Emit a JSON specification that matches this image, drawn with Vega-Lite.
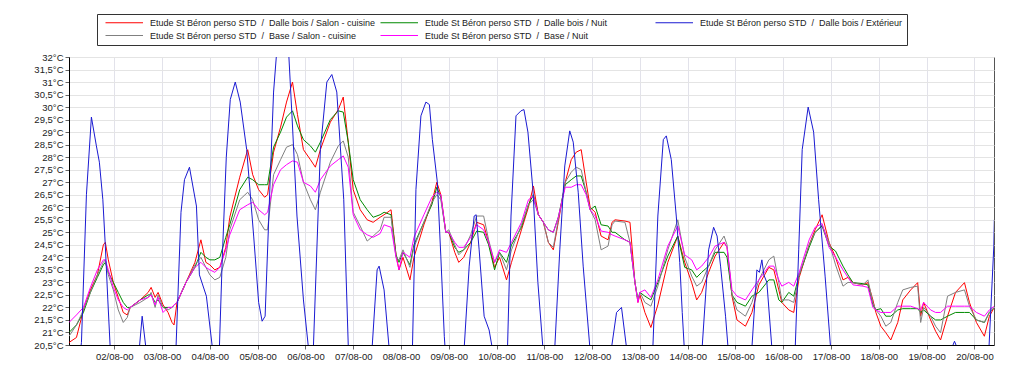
{
"$schema":"https://vega.github.io/schema/vega-lite/v6.json",
"width":925,"height":288,
"autosize":{"type":"none"},
"padding":{"left":69,"top":57,"right":30,"bottom":35},
"background":"white",
"config":{"view":{"stroke":"#555","strokeWidth":1},"font":"Liberation Sans"},
"data":{"values":[
{"t":"2000-08-01 01:15","dalle_salon":20.6,"dalle_nuit":21.0,"base_salon":20.85,"base_nuit":21.4},
{"t":"2000-08-01 05:00","dalle_salon":20.8,"dalle_nuit":21.3,"base_salon":21.3,"base_nuit":21.7},
{"t":"2000-08-01 08:30","dalle_salon":21.9,"dalle_nuit":21.8,"base_salon":21.9,"base_nuit":22.0},
{"t":"2000-08-01 12:00","dalle_salon":22.7,"dalle_nuit":22.6,"base_salon":22.6,"base_nuit":22.8},
{"t":"2000-08-01 15:30","dalle_salon":23.3,"dalle_nuit":23.2,"base_salon":23.3,"base_nuit":23.5},
{"t":"2000-08-01 18:30","dalle_salon":24.5,"dalle_nuit":23.7,"base_salon":23.8,"base_nuit":23.9},
{"t":"2000-08-01 19:30","dalle_salon":24.6,"dalle_nuit":23.8,"base_salon":23.9,"base_nuit":23.9},
{"t":"2000-08-01 21:00","dalle_salon":23.9,"dalle_nuit":23.4,"base_salon":23.3,"base_nuit":23.5},
{"t":"2000-08-01 23:30","dalle_salon":23.0,"dalle_nuit":23.0,"base_salon":22.7,"base_nuit":22.8},
{"t":"2000-08-02 02:00","dalle_salon":22.4,"dalle_nuit":22.6,"base_salon":21.9,"base_nuit":22.3},
{"t":"2000-08-02 04:30","dalle_salon":21.8,"dalle_nuit":22.2,"base_salon":21.4,"base_nuit":22.0},
{"t":"2000-08-02 06:30","dalle_salon":21.7,"dalle_nuit":22.0,"base_salon":21.6,"base_nuit":21.9},
{"t":"2000-08-02 08:00","dalle_salon":22.0,"dalle_nuit":22.0,"base_salon":22.0,"base_nuit":22.0},
{"t":"2000-08-02 13:00","dalle_salon":22.3,"dalle_nuit":22.3,"base_salon":22.2,"base_nuit":22.3},
{"t":"2000-08-02 17:00","dalle_salon":22.6,"dalle_nuit":22.5,"base_salon":22.4,"base_nuit":22.4},
{"t":"2000-08-02 18:30","dalle_salon":22.8,"dalle_nuit":22.5,"base_salon":22.6,"base_nuit":22.5},
{"t":"2000-08-02 20:30","dalle_salon":22.4,"dalle_nuit":22.2,"base_salon":22.0,"base_nuit":22.1},
{"t":"2000-08-02 22:00","dalle_salon":22.6,"dalle_nuit":22.3,"base_salon":22.5,"base_nuit":22.4},
{"t":"2000-08-03 00:30","dalle_salon":22.1,"dalle_nuit":22.0,"base_salon":22.0,"base_nuit":21.8},
{"t":"2000-08-03 03:00","dalle_salon":21.8,"dalle_nuit":22.0,"base_salon":21.9,"base_nuit":22.0},
{"t":"2000-08-03 05:00","dalle_salon":21.4,"dalle_nuit":22.0,"base_salon":22.0,"base_nuit":22.0},
{"t":"2000-08-03 06:00","dalle_salon":21.3,"dalle_nuit":22.1,"base_salon":22.1,"base_nuit":22.1},
{"t":"2000-08-03 07:30","dalle_salon":22.2,"dalle_nuit":22.2,"base_salon":22.2,"base_nuit":22.2},
{"t":"2000-08-03 12:00","dalle_salon":23.0,"dalle_nuit":23.0,"base_salon":23.0,"base_nuit":23.0},
{"t":"2000-08-03 16:30","dalle_salon":23.8,"dalle_nuit":23.6,"base_salon":23.7,"base_nuit":23.6},
{"t":"2000-08-03 19:30","dalle_salon":24.7,"dalle_nuit":24.2,"base_salon":24.0,"base_nuit":23.8},
{"t":"2000-08-03 22:00","dalle_salon":23.8,"dalle_nuit":24.0,"base_salon":23.6,"base_nuit":23.6},
{"t":"2000-08-04 00:00","dalle_salon":23.7,"dalle_nuit":23.9,"base_salon":23.3,"base_nuit":23.5},
{"t":"2000-08-04 02:30","dalle_salon":23.5,"dalle_nuit":23.9,"base_salon":23.1,"base_nuit":23.4},
{"t":"2000-08-04 05:00","dalle_salon":23.6,"dalle_nuit":24.0,"base_salon":23.2,"base_nuit":23.6},
{"t":"2000-08-04 08:00","dalle_salon":24.4,"dalle_nuit":24.8,"base_salon":24.0,"base_nuit":24.3},
{"t":"2000-08-04 10:00","dalle_salon":25.6,"dalle_nuit":25.3,"base_salon":25.1,"base_nuit":24.9},
{"t":"2000-08-04 15:00","dalle_salon":27.2,"dalle_nuit":26.7,"base_salon":26.3,"base_nuit":25.9},
{"t":"2000-08-04 19:00","dalle_salon":28.3,"dalle_nuit":27.2,"base_salon":26.6,"base_nuit":26.1},
{"t":"2000-08-04 21:30","dalle_salon":27.3,"dalle_nuit":27.1,"base_salon":26.3,"base_nuit":26.2},
{"t":"2000-08-05 00:30","dalle_salon":26.7,"dalle_nuit":26.9,"base_salon":25.5,"base_nuit":25.9},
{"t":"2000-08-05 03:30","dalle_salon":26.4,"dalle_nuit":26.9,"base_salon":25.1,"base_nuit":25.7},
{"t":"2000-08-05 05:00","dalle_salon":26.5,"dalle_nuit":26.9,"base_salon":25.1,"base_nuit":25.8},
{"t":"2000-08-05 08:00","dalle_salon":28.2,"dalle_nuit":28.4,"base_salon":27.3,"base_nuit":26.9},
{"t":"2000-08-05 11:30","dalle_salon":29.2,"dalle_nuit":29.0,"base_salon":27.9,"base_nuit":27.5},
{"t":"2000-08-05 14:30","dalle_salon":30.2,"dalle_nuit":29.6,"base_salon":28.4,"base_nuit":27.7},
{"t":"2000-08-05 17:30","dalle_salon":31.0,"dalle_nuit":29.85,"base_salon":28.5,"base_nuit":27.85},
{"t":"2000-08-05 20:00","dalle_salon":29.7,"dalle_nuit":29.25,"base_salon":28.1,"base_nuit":27.8},
{"t":"2000-08-05 23:00","dalle_salon":28.3,"dalle_nuit":28.7,"base_salon":27.0,"base_nuit":27.0},
{"t":"2000-08-06 02:30","dalle_salon":27.9,"dalle_nuit":28.45,"base_salon":26.3,"base_nuit":26.85},
{"t":"2000-08-06 05:00","dalle_salon":27.6,"dalle_nuit":28.2,"base_salon":25.9,"base_nuit":26.6},
{"t":"2000-08-06 07:30","dalle_salon":28.3,"dalle_nuit":28.6,"base_salon":26.6,"base_nuit":27.1},
{"t":"2000-08-06 12:30","dalle_salon":29.4,"dalle_nuit":29.5,"base_salon":27.8,"base_nuit":27.65},
{"t":"2000-08-06 16:30","dalle_salon":29.9,"dalle_nuit":29.85,"base_salon":28.45,"base_nuit":27.9},
{"t":"2000-08-06 19:00","dalle_salon":30.4,"dalle_nuit":29.8,"base_salon":28.65,"base_nuit":28.05},
{"t":"2000-08-06 21:30","dalle_salon":28.6,"dalle_nuit":28.6,"base_salon":28.0,"base_nuit":27.6},
{"t":"2000-08-07 00:00","dalle_salon":26.7,"dalle_nuit":27.1,"base_salon":25.8,"base_nuit":25.7},
{"t":"2000-08-07 03:30","dalle_salon":25.9,"dalle_nuit":26.3,"base_salon":25.25,"base_nuit":25.1},
{"t":"2000-08-07 07:00","dalle_salon":25.5,"dalle_nuit":25.9,"base_salon":24.65,"base_nuit":24.9},
{"t":"2000-08-07 10:00","dalle_salon":25.4,"dalle_nuit":25.6,"base_salon":24.85,"base_nuit":24.8},
{"t":"2000-08-07 13:30","dalle_salon":25.6,"dalle_nuit":25.7,"base_salon":25.1,"base_nuit":24.95},
{"t":"2000-08-07 15:30","dalle_salon":25.7,"dalle_nuit":25.8,"base_salon":25.6,"base_nuit":25.3},
{"t":"2000-08-07 19:00","dalle_salon":25.9,"dalle_nuit":25.7,"base_salon":25.6,"base_nuit":25.2},
{"t":"2000-08-07 21:30","dalle_salon":24.1,"dalle_nuit":24.1,"base_salon":24.0,"base_nuit":24.0},
{"t":"2000-08-07 23:00","dalle_salon":23.5,"dalle_nuit":23.8,"base_salon":23.9,"base_nuit":23.5},
{"t":"2000-08-08 01:00","dalle_salon":24.0,"dalle_nuit":24.2,"base_salon":24.3,"base_nuit":24.2},
{"t":"2000-08-08 04:30","dalle_salon":23.1,"dalle_nuit":23.7,"base_salon":23.6,"base_nuit":24.0},
{"t":"2000-08-08 06:30","dalle_salon":24.0,"dalle_nuit":24.5,"base_salon":24.4,"base_nuit":24.8},
{"t":"2000-08-08 11:30","dalle_salon":25.3,"dalle_nuit":25.4,"base_salon":25.4,"base_nuit":25.7},
{"t":"2000-08-08 15:30","dalle_salon":26.2,"dalle_nuit":26.1,"base_salon":26.2,"base_nuit":26.4},
{"t":"2000-08-08 18:00","dalle_salon":27.0,"dalle_nuit":26.8,"base_salon":26.5,"base_nuit":26.6},
{"t":"2000-08-08 20:00","dalle_salon":26.5,"dalle_nuit":26.4,"base_salon":26.3,"base_nuit":26.5},
{"t":"2000-08-08 22:30","dalle_salon":25.0,"dalle_nuit":25.0,"base_salon":25.0,"base_nuit":25.0},
{"t":"2000-08-09 00:00","dalle_salon":25.0,"dalle_nuit":25.0,"base_salon":25.1,"base_nuit":25.0},
{"t":"2000-08-09 03:00","dalle_salon":24.2,"dalle_nuit":24.4,"base_salon":24.5,"base_nuit":24.6},
{"t":"2000-08-09 05:00","dalle_salon":23.8,"dalle_nuit":24.2,"base_salon":24.1,"base_nuit":24.4},
{"t":"2000-08-09 07:30","dalle_salon":24.0,"dalle_nuit":24.3,"base_salon":24.3,"base_nuit":24.4},
{"t":"2000-08-09 11:00","dalle_salon":24.6,"dalle_nuit":24.6,"base_salon":24.9,"base_nuit":24.8},
{"t":"2000-08-09 14:00","dalle_salon":25.4,"dalle_nuit":25.05,"base_salon":25.65,"base_nuit":25.3},
{"t":"2000-08-09 17:30","dalle_salon":25.3,"dalle_nuit":25.0,"base_salon":25.65,"base_nuit":25.1},
{"t":"2000-08-09 20:00","dalle_salon":24.6,"dalle_nuit":24.5,"base_salon":24.7,"base_nuit":24.6},
{"t":"2000-08-09 23:00","dalle_salon":23.6,"dalle_nuit":23.5,"base_salon":23.8,"base_nuit":23.8},
{"t":"2000-08-10 01:30","dalle_salon":24.0,"dalle_nuit":24.2,"base_salon":24.2,"base_nuit":24.3},
{"t":"2000-08-10 05:00","dalle_salon":23.1,"dalle_nuit":23.8,"base_salon":23.5,"base_nuit":24.2},
{"t":"2000-08-10 07:30","dalle_salon":23.8,"dalle_nuit":24.5,"base_salon":24.3,"base_nuit":24.6},
{"t":"2000-08-10 12:30","dalle_salon":25.1,"dalle_nuit":25.2,"base_salon":25.3,"base_nuit":25.4},
{"t":"2000-08-10 16:00","dalle_salon":26.0,"dalle_nuit":26.1,"base_salon":26.1,"base_nuit":26.3},
{"t":"2000-08-10 18:30","dalle_salon":26.85,"dalle_nuit":26.5,"base_salon":26.3,"base_nuit":26.45},
{"t":"2000-08-10 21:00","dalle_salon":25.7,"dalle_nuit":25.7,"base_salon":25.7,"base_nuit":25.7},
{"t":"2000-08-10 23:30","dalle_salon":25.4,"dalle_nuit":25.4,"base_salon":25.4,"base_nuit":25.4},
{"t":"2000-08-11 02:00","dalle_salon":24.6,"dalle_nuit":25.1,"base_salon":24.6,"base_nuit":25.1},
{"t":"2000-08-11 04:30","dalle_salon":24.3,"dalle_nuit":25.0,"base_salon":24.4,"base_nuit":25.0},
{"t":"2000-08-11 07:00","dalle_salon":25.4,"dalle_nuit":25.6,"base_salon":25.5,"base_nuit":25.6},
{"t":"2000-08-11 10:30","dalle_salon":27.0,"dalle_nuit":26.9,"base_salon":27.0,"base_nuit":26.8},
{"t":"2000-08-11 13:30","dalle_salon":27.9,"dalle_nuit":27.1,"base_salon":27.4,"base_nuit":26.8},
{"t":"2000-08-11 16:00","dalle_salon":28.2,"dalle_nuit":27.25,"base_salon":27.6,"base_nuit":26.9},
{"t":"2000-08-11 18:30","dalle_salon":28.3,"dalle_nuit":27.25,"base_salon":27.5,"base_nuit":26.9},
{"t":"2000-08-11 21:00","dalle_salon":27.0,"dalle_nuit":26.6,"base_salon":26.6,"base_nuit":26.5},
{"t":"2000-08-11 23:00","dalle_salon":26.0,"dalle_nuit":25.9,"base_salon":25.9,"base_nuit":25.9},
{"t":"2000-08-12 01:30","dalle_salon":25.8,"dalle_nuit":26.05,"base_salon":25.5,"base_nuit":25.65},
{"t":"2000-08-12 04:30","dalle_salon":24.85,"dalle_nuit":25.3,"base_salon":24.3,"base_nuit":25.05},
{"t":"2000-08-12 08:00","dalle_salon":24.7,"dalle_nuit":25.25,"base_salon":24.45,"base_nuit":25.0},
{"t":"2000-08-12 10:00","dalle_salon":25.4,"dalle_nuit":25.0,"base_salon":25.3,"base_nuit":24.9},
{"t":"2000-08-12 11:30","dalle_salon":25.5,"dalle_nuit":25.0,"base_salon":25.45,"base_nuit":24.85},
{"t":"2000-08-12 16:30","dalle_salon":25.45,"dalle_nuit":24.7,"base_salon":25.4,"base_nuit":24.7},
{"t":"2000-08-12 19:00","dalle_salon":25.4,"dalle_nuit":24.6,"base_salon":24.6,"base_nuit":24.6},
{"t":"2000-08-12 21:30","dalle_salon":23.0,"dalle_nuit":23.0,"base_salon":23.0,"base_nuit":23.0},
{"t":"2000-08-12 23:00","dalle_salon":22.2,"dalle_nuit":22.3,"base_salon":22.3,"base_nuit":22.2},
{"t":"2000-08-13 00:00","dalle_salon":22.5,"dalle_nuit":22.6,"base_salon":22.6,"base_nuit":22.6},
{"t":"2000-08-13 02:30","dalle_salon":21.8,"dalle_nuit":22.45,"base_salon":22.2,"base_nuit":22.7},
{"t":"2000-08-13 05:30","dalle_salon":21.2,"dalle_nuit":22.3,"base_salon":22.05,"base_nuit":22.4},
{"t":"2000-08-13 09:00","dalle_salon":22.1,"dalle_nuit":22.99,"base_salon":22.85,"base_nuit":23.1},
{"t":"2000-08-13 14:00","dalle_salon":23.8,"dalle_nuit":24.05,"base_salon":24.3,"base_nuit":24.45},
{"t":"2000-08-13 19:00","dalle_salon":24.85,"dalle_nuit":24.85,"base_salon":25.5,"base_nuit":25.25},
{"t":"2000-08-13 22:30","dalle_salon":23.8,"dalle_nuit":23.6,"base_salon":24.0,"base_nuit":24.1},
{"t":"2000-08-14 02:00","dalle_salon":22.99,"dalle_nuit":23.5,"base_salon":23.25,"base_nuit":23.9},
{"t":"2000-08-14 04:30","dalle_salon":22.3,"dalle_nuit":23.2,"base_salon":22.85,"base_nuit":23.5},
{"t":"2000-08-14 07:00","dalle_salon":22.6,"dalle_nuit":23.4,"base_salon":23.0,"base_nuit":23.65},
{"t":"2000-08-14 10:30","dalle_salon":23.4,"dalle_nuit":23.65,"base_salon":23.65,"base_nuit":24.0},
{"t":"2000-08-14 13:45","dalle_salon":24.05,"dalle_nuit":24.2,"base_salon":24.3,"base_nuit":24.45},
{"t":"2000-08-14 18:15","dalle_salon":24.6,"dalle_nuit":24.2,"base_salon":24.85,"base_nuit":24.6},
{"t":"2000-08-14 19:45","dalle_salon":24.4,"dalle_nuit":24.0,"base_salon":24.5,"base_nuit":24.4},
{"t":"2000-08-14 22:15","dalle_salon":22.45,"dalle_nuit":22.5,"base_salon":22.5,"base_nuit":22.7},
{"t":"2000-08-15 00:45","dalle_salon":21.5,"dalle_nuit":22.2,"base_salon":21.9,"base_nuit":22.45},
{"t":"2000-08-15 05:00","dalle_salon":21.25,"dalle_nuit":22.05,"base_salon":21.65,"base_nuit":22.3},
{"t":"2000-08-15 08:15","dalle_salon":21.8,"dalle_nuit":22.45,"base_salon":22.2,"base_nuit":22.7},
{"t":"2000-08-15 11:45","dalle_salon":22.9,"dalle_nuit":22.6,"base_salon":23.1,"base_nuit":23.1},
{"t":"2000-08-15 16:45","dalle_salon":23.6,"dalle_nuit":23.1,"base_salon":23.9,"base_nuit":23.65},
{"t":"2000-08-15 19:15","dalle_salon":23.5,"dalle_nuit":23.1,"base_salon":24.05,"base_nuit":23.65},
{"t":"2000-08-15 21:45","dalle_salon":22.7,"dalle_nuit":22.3,"base_salon":22.99,"base_nuit":23.1},
{"t":"2000-08-15 23:15","dalle_salon":22.2,"dalle_nuit":22.2,"base_salon":22.3,"base_nuit":22.85},
{"t":"2000-08-16 02:45","dalle_salon":21.9,"dalle_nuit":22.6,"base_salon":22.3,"base_nuit":23.0},
{"t":"2000-08-16 05:15","dalle_salon":21.8,"dalle_nuit":22.45,"base_salon":22.2,"base_nuit":22.85},
{"t":"2000-08-16 08:00","dalle_salon":23.2,"dalle_nuit":23.3,"base_salon":23.3,"base_nuit":23.4},
{"t":"2000-08-16 13:00","dalle_salon":24.5,"dalle_nuit":24.4,"base_salon":24.5,"base_nuit":24.7},
{"t":"2000-08-16 16:00","dalle_salon":25.1,"dalle_nuit":25.0,"base_salon":25.0,"base_nuit":25.2},
{"t":"2000-08-16 19:30","dalle_salon":25.7,"dalle_nuit":25.25,"base_salon":25.3,"base_nuit":25.35},
{"t":"2000-08-16 23:00","dalle_salon":24.6,"dalle_nuit":24.45,"base_salon":24.6,"base_nuit":24.4},
{"t":"2000-08-17 02:15","dalle_salon":24.0,"dalle_nuit":24.25,"base_salon":23.7,"base_nuit":24.0},
{"t":"2000-08-17 06:00","dalle_salon":23.1,"dalle_nuit":23.65,"base_salon":22.85,"base_nuit":23.5},
{"t":"2000-08-17 08:30","dalle_salon":23.2,"dalle_nuit":23.3,"base_salon":23.0,"base_nuit":23.2},
{"t":"2000-08-17 11:00","dalle_salon":22.99,"dalle_nuit":22.99,"base_salon":22.99,"base_nuit":22.9},
{"t":"2000-08-17 16:00","dalle_salon":22.9,"dalle_nuit":22.95,"base_salon":22.9,"base_nuit":22.85},
{"t":"2000-08-17 18:30","dalle_salon":22.99,"dalle_nuit":22.9,"base_salon":23.1,"base_nuit":22.8},
{"t":"2000-08-17 21:00","dalle_salon":22.3,"dalle_nuit":22.1,"base_salon":22.2,"base_nuit":22.0},
{"t":"2000-08-17 22:30","dalle_salon":21.8,"dalle_nuit":21.9,"base_salon":21.9,"base_nuit":21.9},
{"t":"2000-08-18 01:00","dalle_salon":21.25,"dalle_nuit":21.95,"base_salon":21.65,"base_nuit":21.8},
{"t":"2000-08-18 03:30","dalle_salon":20.99,"dalle_nuit":21.65,"base_salon":21.25,"base_nuit":21.8},
{"t":"2000-08-18 06:00","dalle_salon":20.7,"dalle_nuit":21.65,"base_salon":21.4,"base_nuit":21.8},
{"t":"2000-08-18 09:30","dalle_salon":21.4,"dalle_nuit":21.9,"base_salon":22.2,"base_nuit":22.05},
{"t":"2000-08-18 12:00","dalle_salon":22.3,"dalle_nuit":21.95,"base_salon":22.7,"base_nuit":22.05},
{"t":"2000-08-18 16:00","dalle_salon":22.7,"dalle_nuit":21.95,"base_salon":22.8,"base_nuit":22.05},
{"t":"2000-08-18 19:30","dalle_salon":22.99,"dalle_nuit":21.95,"base_salon":22.85,"base_nuit":21.95},
{"t":"2000-08-18 21:00","dalle_salon":21.65,"dalle_nuit":21.8,"base_salon":21.4,"base_nuit":21.9},
{"t":"2000-08-18 22:30","dalle_salon":22.2,"dalle_nuit":21.9,"base_salon":22.0,"base_nuit":22.2},
{"t":"2000-08-19 02:00","dalle_salon":21.5,"dalle_nuit":21.65,"base_salon":21.65,"base_nuit":21.9},
{"t":"2000-08-19 04:30","dalle_salon":21.05,"dalle_nuit":21.5,"base_salon":21.25,"base_nuit":21.8},
{"t":"2000-08-19 07:00","dalle_salon":20.7,"dalle_nuit":21.5,"base_salon":20.99,"base_nuit":21.8},
{"t":"2000-08-19 10:30","dalle_salon":21.65,"dalle_nuit":21.65,"base_salon":22.45,"base_nuit":22.05},
{"t":"2000-08-19 14:30","dalle_salon":22.6,"dalle_nuit":21.8,"base_salon":22.6,"base_nuit":22.05},
{"t":"2000-08-19 19:00","dalle_salon":22.99,"dalle_nuit":21.8,"base_salon":22.7,"base_nuit":22.05},
{"t":"2000-08-19 21:30","dalle_salon":22.2,"dalle_nuit":21.8,"base_salon":22.05,"base_nuit":22.05},
{"t":"2000-08-20 01:00","dalle_salon":21.4,"dalle_nuit":21.5,"base_salon":21.5,"base_nuit":21.8},
{"t":"2000-08-20 05:00","dalle_salon":20.85,"dalle_nuit":21.4,"base_salon":21.4,"base_nuit":21.65},
{"t":"2000-08-20 07:30","dalle_salon":21.65,"dalle_nuit":21.8,"base_salon":21.8,"base_nuit":21.9},
{"t":"2000-08-20 10:00","dalle_salon":22.0,"dalle_nuit":22.0,"base_salon":22.0,"base_nuit":22.05},
{"t":"2000-08-01 01:15","dalle_ext":16.5},
{"t":"2000-08-01 07:30","dalle_ext":20.6},
{"t":"2000-08-01 10:00","dalle_ext":26.5},
{"t":"2000-08-01 12:30","dalle_ext":29.6},
{"t":"2000-08-01 15:00","dalle_ext":28.45},
{"t":"2000-08-01 16:30","dalle_ext":27.8},
{"t":"2000-08-01 18:15","dalle_ext":26.3},
{"t":"2000-08-01 19:30","dalle_ext":24.45},
{"t":"2000-08-01 20:45","dalle_ext":22.3},
{"t":"2000-08-01 22:00","dalle_ext":20.3},
{"t":"2000-08-02 05:30","dalle_ext":16.0},
{"t":"2000-08-02 12:30","dalle_ext":20.3},
{"t":"2000-08-02 14:00","dalle_ext":21.65},
{"t":"2000-08-02 16:00","dalle_ext":20.3},
{"t":"2000-08-02 23:00","dalle_ext":16.0},
{"t":"2000-08-03 07:00","dalle_ext":20.4},
{"t":"2000-08-03 09:30","dalle_ext":25.8},
{"t":"2000-08-03 11:15","dalle_ext":27.1},
{"t":"2000-08-03 13:45","dalle_ext":27.6},
{"t":"2000-08-03 17:15","dalle_ext":26.05},
{"t":"2000-08-03 18:45","dalle_ext":23.3},
{"t":"2000-08-03 22:15","dalle_ext":22.45},
{"t":"2000-08-04 01:15","dalle_ext":20.4},
{"t":"2000-08-04 03:00","dalle_ext":19.0},
{"t":"2000-08-04 04:45","dalle_ext":20.3},
{"t":"2000-08-04 06:15","dalle_ext":24.0},
{"t":"2000-08-04 08:15","dalle_ext":28.0},
{"t":"2000-08-04 10:15","dalle_ext":30.3},
{"t":"2000-08-04 12:45","dalle_ext":31.0},
{"t":"2000-08-04 15:15","dalle_ext":30.2},
{"t":"2000-08-04 18:30","dalle_ext":28.3},
{"t":"2000-08-04 22:00","dalle_ext":24.85},
{"t":"2000-08-05 00:30","dalle_ext":22.2},
{"t":"2000-08-05 02:15","dalle_ext":21.45},
{"t":"2000-08-05 03:45","dalle_ext":21.65},
{"t":"2000-08-05 06:15","dalle_ext":27.0},
{"t":"2000-08-05 08:00","dalle_ext":30.6},
{"t":"2000-08-05 09:45","dalle_ext":32.4},
{"t":"2000-08-05 12:15","dalle_ext":33.3},
{"t":"2000-08-05 15:30","dalle_ext":32.3},
{"t":"2000-08-05 17:15","dalle_ext":29.65},
{"t":"2000-08-05 19:45","dalle_ext":25.65},
{"t":"2000-08-05 23:00","dalle_ext":22.3},
{"t":"2000-08-06 01:30","dalle_ext":20.4},
{"t":"2000-08-06 02:45","dalle_ext":19.2},
{"t":"2000-08-06 04:00","dalle_ext":20.4},
{"t":"2000-08-06 07:30","dalle_ext":28.3},
{"t":"2000-08-06 10:45","dalle_ext":31.0},
{"t":"2000-08-06 13:15","dalle_ext":31.3},
{"t":"2000-08-06 15:45","dalle_ext":30.6},
{"t":"2000-08-06 19:15","dalle_ext":26.3},
{"t":"2000-08-06 21:30","dalle_ext":20.5},
{"t":"2000-08-07 03:30","dalle_ext":16.5},
{"t":"2000-08-07 09:30","dalle_ext":20.4},
{"t":"2000-08-07 12:00","dalle_ext":23.5},
{"t":"2000-08-07 13:00","dalle_ext":23.65},
{"t":"2000-08-07 15:30","dalle_ext":22.7},
{"t":"2000-08-07 18:00","dalle_ext":20.4},
{"t":"2000-08-07 23:30","dalle_ext":16.5},
{"t":"2000-08-08 05:45","dalle_ext":20.4},
{"t":"2000-08-08 07:30","dalle_ext":26.7},
{"t":"2000-08-08 10:00","dalle_ext":29.65},
{"t":"2000-08-08 12:30","dalle_ext":30.2},
{"t":"2000-08-08 14:15","dalle_ext":30.1},
{"t":"2000-08-08 15:45","dalle_ext":28.7},
{"t":"2000-08-08 18:15","dalle_ext":27.0},
{"t":"2000-08-08 20:00","dalle_ext":24.05},
{"t":"2000-08-08 21:45","dalle_ext":20.85},
{"t":"2000-08-08 22:45","dalle_ext":19.6},
{"t":"2000-08-09 03:15","dalle_ext":16.5},
{"t":"2000-08-09 07:45","dalle_ext":20.4},
{"t":"2000-08-09 10:15","dalle_ext":23.65},
{"t":"2000-08-09 12:45","dalle_ext":25.65},
{"t":"2000-08-09 13:45","dalle_ext":25.7},
{"t":"2000-08-09 15:15","dalle_ext":24.3},
{"t":"2000-08-09 17:45","dalle_ext":21.65},
{"t":"2000-08-09 20:15","dalle_ext":21.1},
{"t":"2000-08-09 22:00","dalle_ext":20.3},
{"t":"2000-08-10 01:45","dalle_ext":17.0},
{"t":"2000-08-10 05:30","dalle_ext":20.4},
{"t":"2000-08-10 07:15","dalle_ext":25.65},
{"t":"2000-08-10 09:45","dalle_ext":29.65},
{"t":"2000-08-10 12:15","dalle_ext":29.85},
{"t":"2000-08-10 13:45","dalle_ext":29.9},
{"t":"2000-08-10 15:45","dalle_ext":29.0},
{"t":"2000-08-10 18:15","dalle_ext":26.7},
{"t":"2000-08-10 20:45","dalle_ext":23.0},
{"t":"2000-08-10 23:15","dalle_ext":20.4},
{"t":"2000-08-11 02:00","dalle_ext":17.5},
{"t":"2000-08-11 05:15","dalle_ext":20.4},
{"t":"2000-08-11 07:45","dalle_ext":24.3},
{"t":"2000-08-11 10:15","dalle_ext":27.65},
{"t":"2000-08-11 12:45","dalle_ext":29.05},
{"t":"2000-08-11 14:30","dalle_ext":28.6},
{"t":"2000-08-11 17:00","dalle_ext":26.6},
{"t":"2000-08-11 19:30","dalle_ext":23.65},
{"t":"2000-08-11 22:45","dalle_ext":20.5},
{"t":"2000-08-12 04:00","dalle_ext":16.0},
{"t":"2000-08-12 09:45","dalle_ext":20.4},
{"t":"2000-08-12 12:15","dalle_ext":21.8},
{"t":"2000-08-12 14:45","dalle_ext":22.0},
{"t":"2000-08-12 17:15","dalle_ext":20.4},
{"t":"2000-08-13 00:00","dalle_ext":16.0},
{"t":"2000-08-13 06:30","dalle_ext":20.4},
{"t":"2000-08-13 09:00","dalle_ext":25.65},
{"t":"2000-08-13 11:45","dalle_ext":28.7},
{"t":"2000-08-13 13:15","dalle_ext":28.85},
{"t":"2000-08-13 15:45","dalle_ext":27.9},
{"t":"2000-08-13 18:15","dalle_ext":25.65},
{"t":"2000-08-13 20:00","dalle_ext":23.8},
{"t":"2000-08-13 21:15","dalle_ext":21.8},
{"t":"2000-08-13 22:15","dalle_ext":20.4},
{"t":"2000-08-14 02:15","dalle_ext":16.5},
{"t":"2000-08-14 07:15","dalle_ext":20.4},
{"t":"2000-08-14 10:30","dalle_ext":24.3},
{"t":"2000-08-14 13:00","dalle_ext":25.2},
{"t":"2000-08-14 14:45","dalle_ext":24.85},
{"t":"2000-08-14 16:30","dalle_ext":23.65},
{"t":"2000-08-14 19:00","dalle_ext":21.65},
{"t":"2000-08-14 20:15","dalle_ext":20.4},
{"t":"2000-08-15 02:15","dalle_ext":16.5},
{"t":"2000-08-15 08:15","dalle_ext":20.4},
{"t":"2000-08-15 10:45","dalle_ext":23.5},
{"t":"2000-08-15 12:00","dalle_ext":23.4},
{"t":"2000-08-15 13:15","dalle_ext":23.9},
{"t":"2000-08-15 14:15","dalle_ext":23.3},
{"t":"2000-08-15 15:45","dalle_ext":23.0},
{"t":"2000-08-15 18:15","dalle_ext":20.4},
{"t":"2000-08-16 01:00","dalle_ext":16.5},
{"t":"2000-08-16 06:00","dalle_ext":20.4},
{"t":"2000-08-16 07:45","dalle_ext":24.3},
{"t":"2000-08-16 09:30","dalle_ext":28.3},
{"t":"2000-08-16 12:30","dalle_ext":30.0},
{"t":"2000-08-16 15:15","dalle_ext":29.0},
{"t":"2000-08-16 17:45","dalle_ext":26.3},
{"t":"2000-08-16 21:00","dalle_ext":23.25},
{"t":"2000-08-16 23:45","dalle_ext":20.4},
{"t":"2000-08-17 07:00","dalle_ext":16.5},
{"t":"2000-08-17 19:30","dalle_ext":15.5},
{"t":"2000-08-18 10:30","dalle_ext":16.0},
{"t":"2000-08-19 01:45","dalle_ext":17.5},
{"t":"2000-08-19 12:15","dalle_ext":20.3},
{"t":"2000-08-19 14:00","dalle_ext":20.65},
{"t":"2000-08-19 15:15","dalle_ext":20.4},
{"t":"2000-08-19 21:45","dalle_ext":18.5},
{"t":"2000-08-20 07:15","dalle_ext":20.3},
{"t":"2000-08-20 09:45","dalle_ext":24.45},
{"t":"2000-08-20 10:00","dalle_ext":25.5}
]},
"transform":[
{"fold":["dalle_salon","dalle_nuit","dalle_ext","base_salon","base_nuit"],"as":["code","temp"]},
{"filter":"isValid(datum.temp)"},
{"lookup":"code","from":{"data":{"values":[
{"code":"dalle_salon","serie":"Etude St Béron perso STD\u00a0 /\u00a0 Dalle bois / Salon - cuisine"},
{"code":"dalle_nuit","serie":"Etude St Béron perso STD\u00a0 /\u00a0 Dalle bois / Nuit"},
{"code":"dalle_ext","serie":"Etude St Béron perso STD\u00a0 /\u00a0 Dalle bois / Extérieur"},
{"code":"base_salon","serie":"Etude St Béron perso STD\u00a0 /\u00a0 Base / Salon - cuisine"},
{"code":"base_nuit","serie":"Etude St Béron perso STD\u00a0 /\u00a0 Base / Nuit"}
]},"key":"code","fields":["serie"]}}
],
"mark":{"type":"line","strokeWidth":1,"clip":true},
"encoding":{
"x":{"field":"t","type":"temporal",
"scale":{"domain":[{"year":2000,"month":8,"date":1,"hours":1,"minutes":15},{"year":2000,"month":8,"date":20,"hours":9,"minutes":50}]},
"axis":{"title":null,"format":"%d/%m-%y","tickCount":{"interval":"day","step":1},"labelOverlap":false,"labelAngle":0,"labelFlush":false,"grid":true,"gridColor":"#e2e2ea","domainColor":"#000","tickColor":"#666","tickSize":4,"labelFontSize":9.5,"labelColor":"#222","labelPadding":2}},
"y":{"field":"temp","type":"quantitative",
"scale":{"domain":[20.5,32],"nice":false,"zero":false},
"axis":{"title":null,"values":[20.5,21,21.5,22,22.5,23,23.5,24,24.5,25,25.5,26,26.5,27,27.5,28,28.5,29,29.5,30,30.5,31,31.5,32],"labelExpr":"replace(format(datum.value, '.1~f'), '.', ',') + '°C'","labelOverlap":false,"labelFlush":false,"grid":true,"gridColor":"#e4e4e4","domainColor":"#000","tickColor":"#666","tickSize":4,"labelFontSize":9.5,"labelColor":"#222","labelPadding":2}},
"color":{"field":"serie","type":"nominal",
"scale":{"domain":["Etude St Béron perso STD\u00a0 /\u00a0 Dalle bois / Salon - cuisine","Etude St Béron perso STD\u00a0 /\u00a0 Dalle bois / Nuit","Etude St Béron perso STD\u00a0 /\u00a0 Dalle bois / Extérieur","Etude St Béron perso STD\u00a0 /\u00a0 Base / Salon - cuisine","Etude St Béron perso STD\u00a0 /\u00a0 Base / Nuit"],
"range":["#ff0000","#008a00","#1a1ad2","#808080","#ff00ff"]},
"legend":{"title":null,"orient":"none","legendX":28,"legendY":-43,"direction":"horizontal","columns":3,"gridAlign":"all","columnPadding":0,"rowPadding":3,"padding":4,"strokeColor":"#333","fillColor":"#fff","symbolType":"M0,0H18.75","symbolSize":16,"symbolStrokeWidth":1,"labelOffset":40,"labelFontSize":9,"labelColor":"#222","labelLimit":400}}
}
}
